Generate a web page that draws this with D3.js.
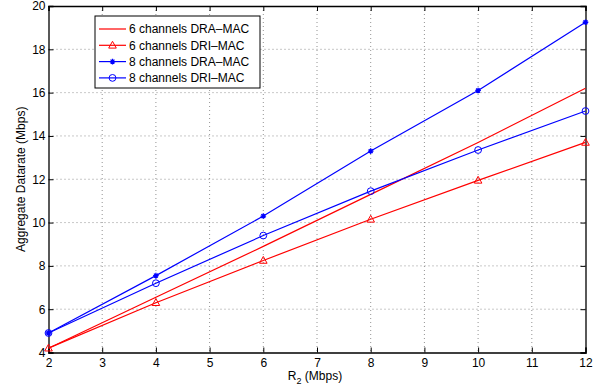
<!DOCTYPE html>
<html><head><meta charset="utf-8">
<script src="https://cdn.jsdelivr.net/npm/d3@7"></script>
<style>
body{margin:0;background:#fff;}
text{font-family:"Liberation Sans",Arial,sans-serif;}
</style></head><body>
<svg id="c" width="608" height="387"></svg>
<script>
const xValues = [2, 4, 6, 8, 10, 12];
const dra6 = [4.2, 6.55, 8.9, 11.3, 13.7, 16.2];
const dri6 = [4.2, 6.3, 8.25, 10.15, 11.95, 13.7];
const dra8 = [4.9, 7.55, 10.3, 13.3, 16.1, 19.25];
const dri8 = [4.9, 7.2, 9.4, 11.45, 13.35, 15.15];
const seriesNames = ["6 channels DRA\u2013MAC", "6 channels DRI\u2013MAC", "8 channels DRA\u2013MAC", "8 channels DRI\u2013MAC"];
const xTicks = [2,3,4,5,6,7,8,9,10,11,12];
const yTicks = [4,6,8,10,12,14,16,18,20];

const series = [
  {name: seriesNames[0], values: dra6, color: "#ff0000", marker: "none"},
  {name: seriesNames[1], values: dri6, color: "#ff0000", marker: "triangle"},
  {name: seriesNames[2], values: dra8, color: "#0000ff", marker: "star"},
  {name: seriesNames[3], values: dri8, color: "#0000ff", marker: "circle"}
];

const L = 48.5, R = 585.5, T = 6, B = 352.5;
const svg = d3.select("#c");
const x = d3.scaleLinear().domain([2, 12]).range([L, R]);
const y = d3.scaleLinear().domain([4, 20]).range([B, T]);

// grid
const g = svg.append("g");
g.selectAll(".gx").data(xTicks.slice(1, -1)).enter().append("line")
  .attr("x1", d => x(d)).attr("x2", d => x(d)).attr("y1", T).attr("y2", B)
  .attr("stroke", "#777").attr("stroke-width", 0.8).attr("stroke-dasharray", "1,3");
g.selectAll(".gy").data(yTicks.slice(1, -1)).enter().append("line")
  .attr("y1", d => y(d)).attr("y2", d => y(d)).attr("x1", L).attr("x2", R)
  .attr("stroke", "#777").attr("stroke-width", 0.8).attr("stroke-dasharray", "1,3");

// axes
const fs = 12;
const xb = svg.append("g").attr("transform", `translate(0,${B})`)
  .call(d3.axisBottom(x).tickValues(xTicks).tickSize(-5).tickPadding(4).tickFormat(d3.format("d")));
const xt = svg.append("g").attr("transform", `translate(0,${T})`)
  .call(d3.axisTop(x).tickValues(xTicks).tickSize(-5).tickFormat(""));
const yl = svg.append("g").attr("transform", `translate(${L},0)`)
  .call(d3.axisLeft(y).tickValues(yTicks).tickSize(-5).tickPadding(3).tickFormat(d3.format("d")));
const yr = svg.append("g").attr("transform", `translate(${R},0)`)
  .call(d3.axisRight(y).tickValues(yTicks).tickSize(-5).tickFormat(""));
[xb, xt, yl, yr].forEach(a => {
  a.select(".domain").attr("stroke", "#000").attr("stroke-width", 1.3);
  a.selectAll(".tick line").attr("stroke", "#000").attr("stroke-width", 1);
  a.selectAll("text").attr("font-size", fs).attr("fill", "#000")
    .style("font-family", '"Liberation Sans",Arial,sans-serif');
});
xb.selectAll("text").attr("dy", "0.9em");

// lines
const line = d3.line().x((d, i) => x(xValues[i])).y(d => y(d));
function drawMarker(sel, type, color, cx, cy) {
  if (type === "triangle") {
    sel.append("path").attr("d", `M${cx},${cy-4}L${cx+3.8},${cy+2.8}L${cx-3.8},${cy+2.8}Z`)
      .attr("fill", "none").attr("stroke", color).attr("stroke-width", 1);
  } else if (type === "circle") {
    sel.append("circle").attr("cx", cx).attr("cy", cy).attr("r", 3.4)
      .attr("fill", "none").attr("stroke", color).attr("stroke-width", 1);
  } else if (type === "star") {
    const s = 2.8;
    sel.append("path").attr("d",
      `M${cx-s},${cy}L${cx+s},${cy}M${cx},${cy-s}L${cx},${cy+s}M${cx-s*0.7},${cy-s*0.7}L${cx+s*0.7},${cy+s*0.7}M${cx-s*0.7},${cy+s*0.7}L${cx+s*0.7},${cy-s*0.7}`)
      .attr("stroke", color).attr("stroke-width", 1.3);
    sel.append("circle").attr("cx", cx).attr("cy", cy).attr("r", 1.5).attr("fill", color);
  }
}
series.forEach(s => {
  const gg = svg.append("g");
  gg.append("path").datum(s.values).attr("d", line)
    .attr("fill", "none").attr("stroke", s.color).attr("stroke-width", 1.2);
  s.values.forEach((v, i) => drawMarker(gg, s.marker, s.color, x(xValues[i]), y(v)));
});

// legend
const lg = svg.append("g");
lg.append("rect").attr("x", 95).attr("y", 16).attr("width", 165).attr("height", 72)
  .attr("fill", "#fff").attr("stroke", "#000").attr("stroke-width", 1);
series.forEach((s, i) => {
  const yy = 29 + i * 16.3;
  lg.append("line").attr("x1", 99).attr("x2", 126).attr("y1", yy).attr("y2", yy)
    .attr("stroke", s.color).attr("stroke-width", 1.2);
  drawMarker(lg, s.marker, s.color, 112.5, yy);
  lg.append("text").attr("x", 129).attr("y", yy).attr("dy", "0.35em")
    .attr("font-size", 12).attr("fill", "#000").text(s.name);
});

// axis labels
svg.append("text").attr("transform", `translate(25,${(T+B)/2}) rotate(-90)`)
  .attr("text-anchor", "middle").attr("font-size", 12).attr("fill", "#000")
  .text("Aggregate Datarate (Mbps)");
const xl = svg.append("text").attr("x", 315).attr("y", 380).attr("text-anchor", "middle")
  .attr("font-size", 12).attr("fill", "#000");
xl.append("tspan").text("R");
xl.append("tspan").attr("font-size", 9).attr("dy", 4).text("2");
xl.append("tspan").attr("dy", -4).text(" (Mbps)");
</script>
</body></html>
